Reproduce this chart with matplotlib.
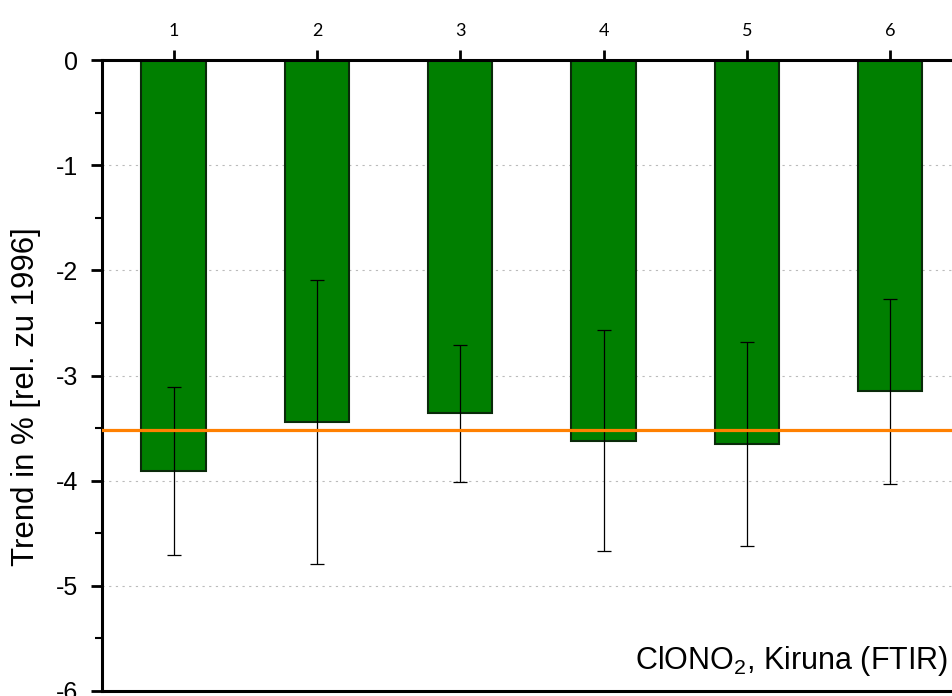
import numpy as np
import matplotlib
matplotlib.use("Agg")
import matplotlib.pyplot as plt
from matplotlib.ticker import MultipleLocator

# Daten
stations = [1, 2, 3, 4, 5, 6]
trend = [-3.91, -3.44, -3.36, -3.62, -3.65, -3.15]
err = [0.80, 1.35, 0.65, 1.05, 0.97, 0.88]
mean_trend = -3.52

plt.rcParams['font.family'] = ['Liberation Sans', 'DejaVu Sans']
plt.rcParams['axes.unicode_minus'] = False
plt.rcParams['mathtext.fontset'] = 'custom'
plt.rcParams['mathtext.rm'] = 'Liberation Sans'

fig = plt.figure(figsize=(9.53, 6.96), dpi=100)
ax = fig.add_axes([102 / 953, 1 - 691 / 696, (954 - 102) / 953, (691 - 60) / 696])

ax.bar(stations, trend, width=0.45, color='#007f00', edgecolor='#0a2a0a', linewidth=1.5,
       zorder=2)
ax.errorbar(stations, trend, yerr=err, fmt='none', ecolor='black', elinewidth=0.9,
            capsize=5, capthick=0.9, zorder=3)
ax.axhline(mean_trend, color='#ff8000', linewidth=2.3, zorder=4)

ax.set_xlim(0.5, 6.446)
ax.set_ylim(-6, 0)
ax.yaxis.set_major_locator(MultipleLocator(1))
ax.yaxis.set_minor_locator(MultipleLocator(0.5))
ax.grid(axis='y', which='major', linestyle=(0, (2, 4)), color='#bbbbbb', linewidth=0.8,
        zorder=0)

ax.xaxis.tick_top()
ax.set_xticks(stations)
ax.set_xticklabels([str(s) for s in stations], fontsize=13, family=['Lato', 'DejaVu Sans'])
ax.tick_params(axis='x', which='major', direction='out', length=7, width=2, pad=8)
ax.tick_params(axis='y', which='major', direction='out', length=8, width=2, labelsize=18,
               pad=9, right=True)
ax.tick_params(axis='y', which='minor', direction='out', length=5, width=1.5)

for s in ['left', 'top', 'bottom']:
    ax.spines[s].set_linewidth(2.2)
ax.spines['right'].set_visible(False)

ax.set_ylabel('Trend in % [rel. zu 1996]', fontsize=22.5)
ax.yaxis.set_label_coords(-0.072, 0.467)
ax.text(0.993, 0.02, 'ClONO$_\\mathregular{2}$, Kiruna (FTIR)', transform=ax.transAxes,
        ha='right', va='bottom', fontsize=22)

fig.savefig('out.png', dpi=100)
